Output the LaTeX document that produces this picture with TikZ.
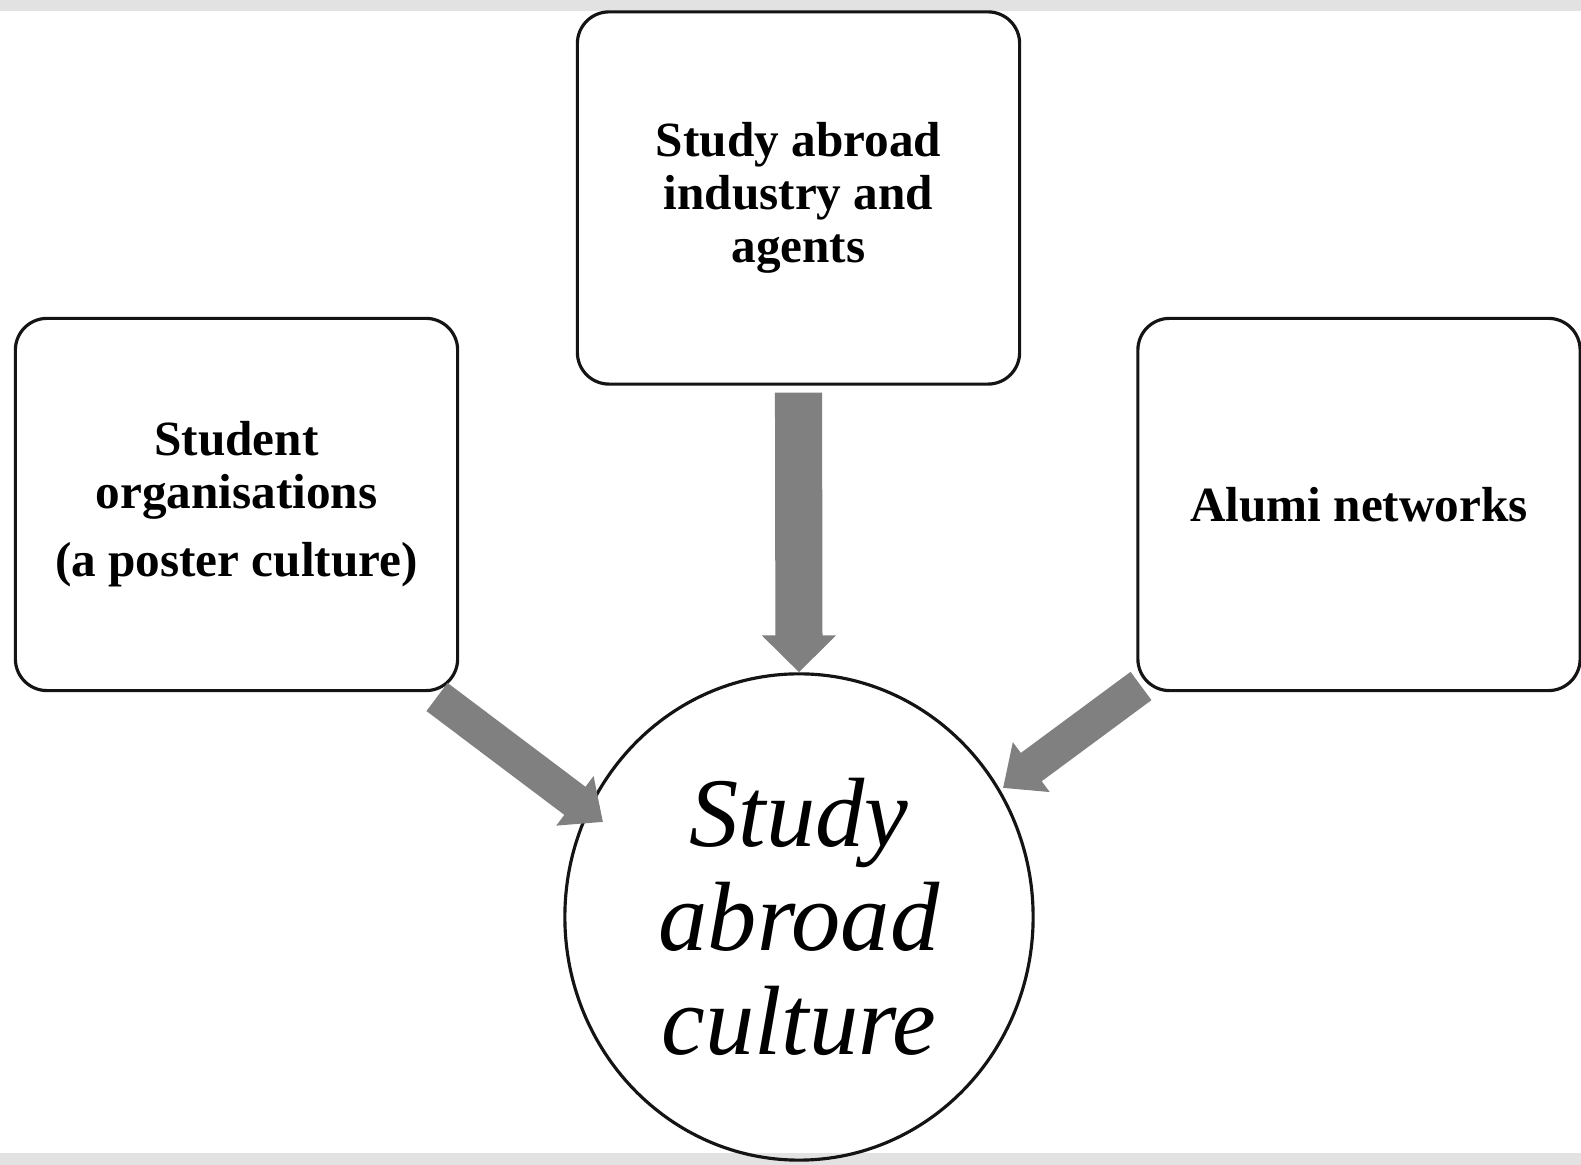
\documentclass[tikz,border=0pt]{standalone}
\usepackage{fontspec}
\setmainfont{Liberation Serif}
\usetikzlibrary{shapes.geometric, arrows.meta, positioning}
\definecolor{SACArrow}{RGB}{128, 128, 128}
\definecolor{SACLine}{RGB}{20, 20, 20}
\definecolor{SACBar}{RGB}{226, 226, 226}
\tikzset{
  sourcebox/.style={draw=SACLine, line width=0.9pt, rounded corners=9pt,
    minimum width=4.42cm, minimum height=3.72cm, align=center,
    font=\fontsize{14}{15}\selectfont\bfseries},
  centrecircle/.style={ellipse, draw=SACLine, line width=0.9pt,
    minimum width=4.68cm, minimum height=4.86cm, align=center,
    font=\fontsize{28}{29.5}\selectfont\itshape},
  bigarrow/.style={SACArrow, line width=13.4pt,
    -{Triangle[width=20.5pt, length=10.5pt]}},
  sidearrow/.style={SACArrow, line width=10pt,
    -{Triangle[width=17pt, length=10pt]}}
}
\begin{document}
\begin{tikzpicture}[x=0.01cm,y=-0.01cm]
  \path[use as bounding box] (0,0) rectangle (1581,1165);
  \fill[SACBar] (0,0) rectangle (1581,11);
  \fill[SACBar] (0,1153) rectangle (1581,1165);
  % boxes
  \node[sourcebox] (agents) at (798.5,198) {Study abroad\\industry and\\agents};
  \node[sourcebox] (orgs) at (236.5,504.5) {Student\\organisations\\[4.5pt](a poster culture)};
  \node[sourcebox] (alumni) at (1359,504.5) {Alumi networks};
  % centre
  \node[centrecircle] (culture) at (799,917) {Study\\abroad\\culture};
  % arrow ends
  \coordinate (orgsout) at (437,697);
  \coordinate (orgsin) at (603,822);
  \coordinate (alumniout) at (1141,686);
  \coordinate (alumniin) at (1003,788);
  % arrows
  \draw[bigarrow, shorten <=2pt] (agents.south) -- (culture.north);
  \draw[sidearrow] (orgsout) -- (orgsin);
  \draw[sidearrow] (alumniout) -- (alumniin);
\end{tikzpicture}
\end{document}
